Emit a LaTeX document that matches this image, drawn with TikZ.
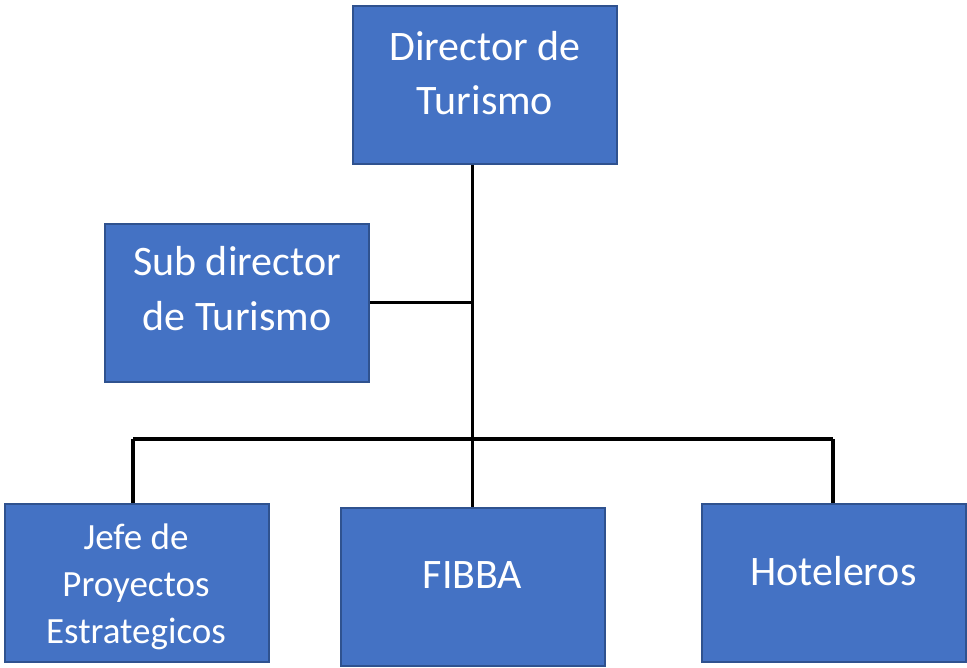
\documentclass[tikz,border=0pt]{standalone}
\usepackage{fontspec}
\setmainfont{Carlito}
\definecolor{boxfill}{HTML}{4472C4}
\definecolor{boxline}{HTML}{2F528F}
\begin{document}
\begin{tikzpicture}[x=1pt,y=-1pt,
  orgbox/.style={draw=boxline,fill=boxfill,line width=2pt,inner sep=0pt,
    minimum width=264pt,minimum height=158pt},
  big/.style={text=white,font=\fontsize{42}{50}\selectfont,inner sep=0pt,anchor=base},
  small/.style={text=white,font=\fontsize{37}{44}\selectfont,inner sep=0pt,anchor=base},
  conn/.style={line width=3.5pt,black}]
\useasboundingbox (0,0) rectangle (967,667);
\fill[white] (0,0) rectangle (967,667);

\node[orgbox] (dir) at (485,85) {};
\node[orgbox] (sub) at (237,302.5) {};
\node[orgbox] (jefe) at (136.5,582.5) {};
\node[orgbox] (fibba) at (472.5,587) {};
\node[orgbox] (hot) at (833.5,582.5) {};

\node[big] (dirA) at (485,60) {Director de};
\node[big] (dirB) at (485,114) {Turismo};
\node[big] (subA) at (237,275) {Sub director};
\node[big] (subB) at (237,330) {de Turismo};
\begin{scope}
\clip (0,490) rectangle (280,649);
\node[small] (jefA) at (136,549) {Jefe de};
\node[small] (jefB) at (136,596) {Proyectos};
\node[small] (jefC) at (136,643) {Estrategicos};
\end{scope}
\node[big] (fibT) at (472.5,588) {FIBBA};
\node[big] (hotT) at (833.5,585) {Hoteleros};

\coordinate (busL) at (133,439);
\coordinate (busR) at (833,439);
\draw[conn] (dir.south -| fibba.north) -- (fibba.north);
\draw[conn] (sub.east) -- (sub.east -| fibba.north);
\draw[conn] (busL) -- (busR);
\draw[conn] (busL) -- (busL |- jefe.north);
\draw[conn] (busR) -- (busR |- hot.north);
\end{tikzpicture}
\end{document}
